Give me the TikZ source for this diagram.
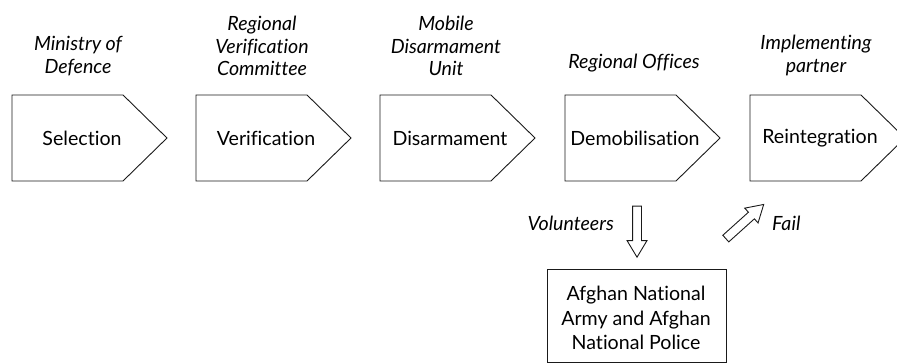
\documentclass[tikz,border=0pt]{standalone}
\usepackage{fontspec}
\setmainfont[Ligatures=NoCommon]{Lato}
\usepackage{tikz}
\usetikzlibrary{
    shapes, shapes.arrows,
    positioning, calc
}
\definecolor{lineBlack}{HTML}{1A1A1A}
\def\boxw{111}
\def\tipw{44}
\tikzset{
    stageline/.style={draw=lineBlack, line width=0.9pt, fill=white},
    stagetext/.style={font=\fontsize{19.6}{23}\selectfont, inner sep=0pt},
    ownertext/.style={font=\fontsize{19.6}{22.5}\selectfont\itshape, align=center, inner sep=0pt},
    blockarrow/.style={single arrow, draw=lineBlack, line width=0.9pt, fill=white,
        inner sep=4pt, minimum height=51pt, single arrow head extend=5.5pt,
        single arrow tip angle=62}
}
\newcommand{\DrawStage}[4]{
    \begin{scope}[shift={(#1,0)}]
        \draw[stageline] (0,268) -- (\boxw,268) -- (\boxw+\tipw,225) -- (\boxw,182) -- (0,182) -- cycle;
        \node[stagetext] (#2) at (70,225) {#3};
        \node[ownertext, anchor=south] (#2-owner) at (66,287) {#4};
    \end{scope}
}

\begin{document}
\begin{tikzpicture}[x=1pt, y=1pt]
        \useasboundingbox (0,0) rectangle (897,363);

        % The five stages
        \DrawStage{12}{sel}{Selection}{Ministry of\\Defence}
        \DrawStage{196}{ver}{Verification}{Regional\\Verification\\Committee}
        \DrawStage{380}{dis}{Disarmament}{Mobile\\Disarmament\\Unit}
        \DrawStage{565}{dem}{Demobilisation}{}
        \DrawStage{750}{rei}{Reintegration}{Implementing\\partner}
        \node[ownertext] (dem-label) at (634,300) {Regional Offices};

        % Army and police box
        \draw[stageline] (547,94) rectangle (726,1);
        \node[stagetext, align=center, font=\fontsize{19.6}{24.5}\selectfont] (anaanp) at (636,45)
            {Afghan National\\Army and Afghan\\National Police};

        % Volunteers go down, failures go back up
        \node[blockarrow, rotate=-90] (vol-arrow) at (637,135) {};
        \node[ownertext, anchor=east] (vol) at (614,140) {Volunteers};
        \node[blockarrow, rotate=42] (fail-arrow) at (742,139) {};
        \node[ownertext, anchor=west] (fail) at (772,140) {Fail};
    \end{tikzpicture}
\end{document}
